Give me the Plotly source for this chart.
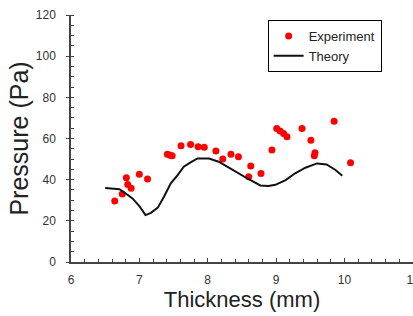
import plotly.graph_objects as go

# Experiment data (thickness mm, pressure Pa)
exp_x = [6.64, 6.75, 6.81, 6.83, 6.88, 7.00, 7.12, 7.41, 7.45, 7.48, 7.61, 7.75,
         7.86, 7.95, 8.12, 8.22, 8.34, 8.45, 8.60, 8.63, 8.78, 8.94, 9.01, 9.06,
         9.11, 9.16, 9.38, 9.51, 9.56, 9.57, 9.85, 10.09]
exp_y = [29.6, 33.0, 40.9, 37.7, 35.8, 42.6, 40.3, 52.4, 51.9, 51.6, 56.5, 57.1,
         56.0, 55.7, 53.9, 50.0, 52.3, 51.1, 41.4, 46.7, 43.0, 54.4, 64.9, 63.7,
         62.4, 60.8, 64.9, 59.2, 51.6, 53.1, 68.4, 48.2]

# Theory curve
th_x = [6.50, 6.71, 6.80, 6.90, 7.00, 7.09, 7.17, 7.27, 7.36, 7.46, 7.56, 7.65,
        7.75, 7.85, 8.02, 8.16, 8.31, 8.46, 8.60, 8.77, 8.89, 8.99, 9.14, 9.28,
        9.43, 9.60, 9.74, 9.87, 9.97]
th_y = [35.9, 35.4, 33.3, 30.9, 27.2, 22.8, 23.9, 26.4, 31.7, 38.2, 42.2, 46.3,
        48.4, 50.3, 50.3, 48.7, 45.8, 42.7, 40.2, 37.2, 36.9, 37.5, 39.8, 43.1,
        45.8, 47.9, 47.4, 44.7, 41.9]

x_ticks = [6, 7, 8, 9, 10, 11]
y_ticks = [0, 20, 40, 60, 80, 100, 120]

fig = go.Figure()
fig.add_trace(go.Scatter(x=exp_x, y=exp_y, mode="markers", name="Experiment",
                         marker=dict(color="#ff0000", size=7, line=dict(width=0))))
fig.add_trace(go.Scatter(x=th_x, y=th_y, mode="lines", name="Theory",
                         line=dict(color="#111111", width=2)))

font_fam = "Liberation Sans, Arial, sans-serif"
fig.update_layout(
    width=413, height=316,
    margin=dict(l=71, r=0, t=15, b=54),
    paper_bgcolor="white", plot_bgcolor="white",
    font=dict(family=font_fam, color="#333333"),
    showlegend=True,
    legend=dict(x=0.575, y=0.98, xanchor="left", yanchor="top",
                bordercolor="#000000", borderwidth=1, bgcolor="white",
                font=dict(size=13, color="#222222"), itemwidth=30,
                tracegroupgap=0),
    xaxis=dict(range=[6, 11.004], tickvals=x_ticks, showgrid=False, zeroline=False,
               showline=True, linecolor="#444444", linewidth=1.5,
               ticks="inside", ticklen=4, tickcolor="#444444",
               minor=dict(dtick=0.2, ticks="inside", ticklen=3, tickcolor="#444444"),
               tickfont=dict(size=12, color="#333333"), ticklabelstandoff=6,
               ticklabeloverflow="allow", automargin=False,
               title=dict(text="Thickness (mm)", font=dict(size=22, color="#222222"), standoff=3)),
    yaxis=dict(range=[0, 120], tickvals=y_ticks, showgrid=False, zeroline=False,
               showline=True, linecolor="#444444", linewidth=1.5,
               ticks="outside", ticklen=3, tickcolor="#444444",
               minor=dict(dtick=5, ticks="inside", ticklen=3, tickcolor="#444444"),
               tickfont=dict(size=12, color="#333333"), ticklabelstandoff=8,
               title=dict(text="Pressure (Pa)", font=dict(size=25, color="#222222"), standoff=0)),
)

fig.write_html("out.html")
